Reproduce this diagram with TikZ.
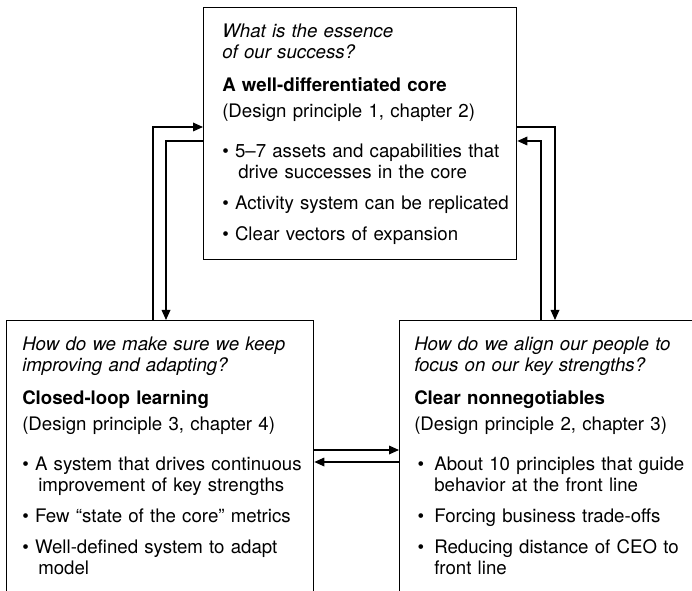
\documentclass[tikz,border=0pt]{standalone}
\usepackage{fontspec}
\setmainfont{TeX Gyre Heros}
\usepackage{tikz}
\usetikzlibrary{arrows.meta}
\usetikzlibrary{calc}
\newdimen\pxunit
\pxunit=0.75pt
\newcommand{\pointa}[1]{\vspace{7.5pt}\hangindent=12pt\hangafter=1\noindent\textbullet\ #1\par}
\newcommand{\pointb}[1]{\vspace{7.5pt}\hangindent=15pt\hangafter=1\noindent\makebox[15pt][l]{\hspace{2.5pt}\textbullet}#1\par}
\newcommand{\panelhead}[3]{
	\parskip=0pt\noindent\textit{#1}\par\vspace{9pt}
	\noindent\textbf{#2}\par\vspace{3.75pt}
	\noindent #3\par\vspace{6.75pt}
	}

\begin{document}
\begin{tikzpicture}[x=0.75pt, y=-0.75pt,
	frame/.style={draw, line width=1pt, anchor=north west},
	words/.style={text width=300\pxunit, align=left, inner sep=0pt, anchor=north west, font=\fontsize{14}{15.75}\selectfont},
	flow/.style={-{Triangle[length=7.5pt,width=6.5pt]}, line width=0.9pt}]

	\useasboundingbox (0,0) rectangle (692,591);
	\clip (0,0) rectangle (692,591);

	% three boxes
	\node[frame, minimum width=313\pxunit, minimum height=252\pxunit] (core) at (203,7) {};
	\node[frame, minimum width=307\pxunit, minimum height=400\pxunit] (loop) at (6,320) {};
	\node[frame, minimum width=400\pxunit, minimum height=400\pxunit] (rules) at (399,320) {};

	\node[words] (coretxt) at ($(core.north west)+(19,17)$) {\panelhead{What is the essence\newline of our success?}{A well-differentiated core}{(Design principle 1, chapter 2)}
		\pointa{5--7 assets and capabilities that\newline drive successes in the core}
		\pointa{Activity system can be replicated}
		\pointa{Clear vectors of expansion}};

	\node[words] (looptxt) at ($(loop.north west)+(16,17)$) {\panelhead{How do we make sure we keep\newline improving and adapting?}{Closed-loop learning}{(Design principle 3, chapter 4)}
		\pointa{A system that drives continuous\newline improvement of key strengths}
		\pointa{Few “state of the core” metrics}
		\pointa{Well-defined system to adapt\newline model}};

	\node[words] (rulestxt) at ($(rules.north west)+(15,17)$) {\panelhead{How do we align our people to\newline focus on our key strengths?}{Clear nonnegotiables}{(Design principle 2, chapter 3)}
		\pointb{About 10 principles that guide\newline behavior at the front line}
		\pointb{Forcing business trade-offs}
		\pointb{Reducing distance of CEO to\newline front line}};

	% feedback arrows
	\draw[flow] ($(loop.north west)+(147,0)$) |- ($(core.north west)+(0,120)$);
	\draw[flow] ($(core.north west)+(0,134)$) -| ($(loop.north west)+(160,0)$);
	\draw[flow] ($(core.north east)+(0,120)$) -| ($(rules.north west)+(156,0)$);
	\draw[flow] ($(rules.north west)+(142,0)$) |- ($(core.north east)+(0,134)$);
	\draw[flow] ($(loop.north east)+(0,130)$) -- ($(rules.north west)+(0,130)$);
	\draw[flow] ($(rules.north west)+(0,142)$) -- ($(loop.north east)+(0,142)$);

\end{tikzpicture}
\end{document}
